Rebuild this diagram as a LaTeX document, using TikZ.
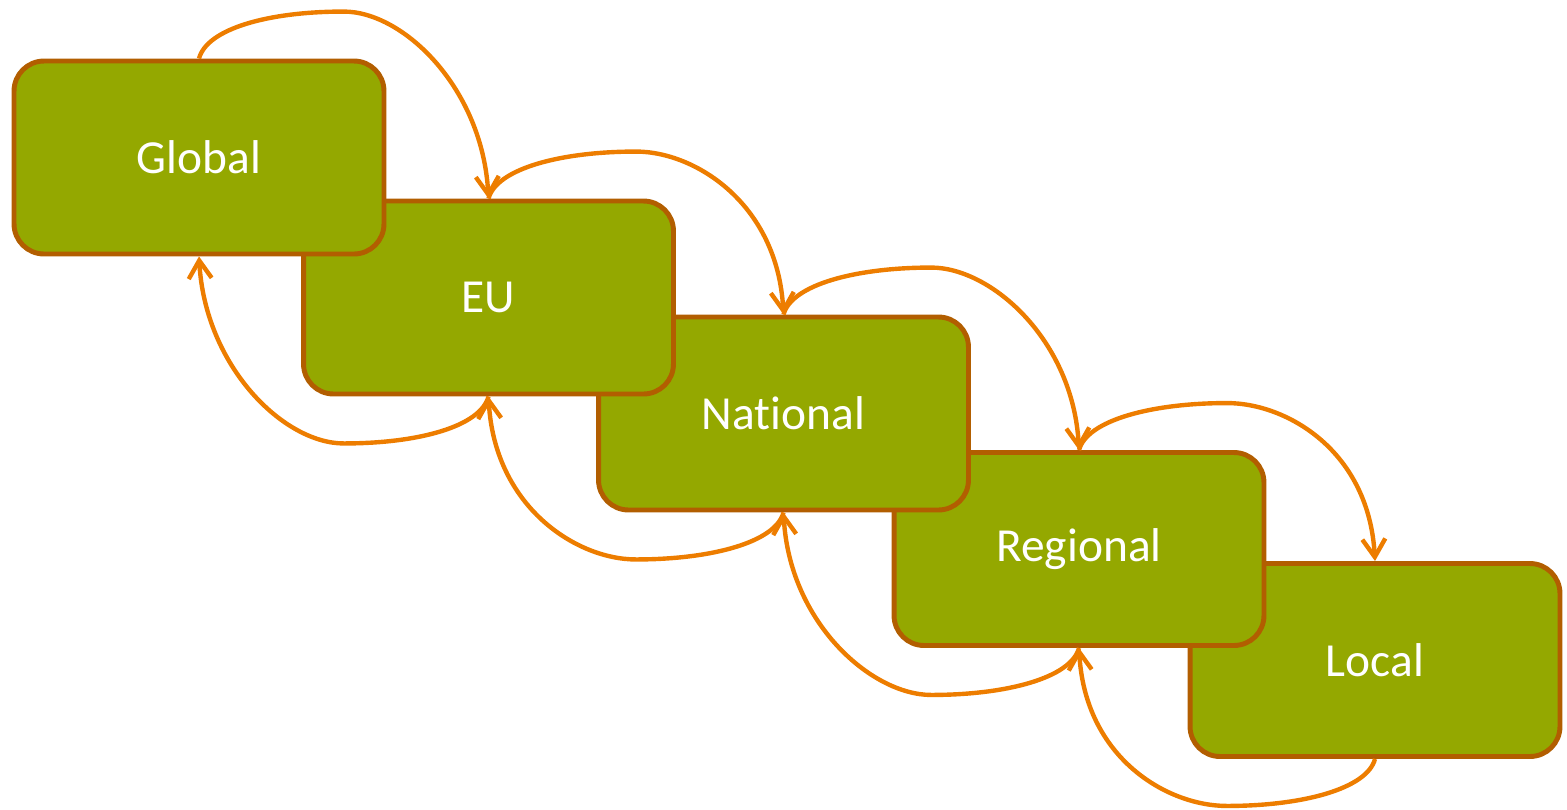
\documentclass[tikz,border=0pt]{standalone}
\usepackage{fontspec}
\setmainfont[Ligatures=NoCommon]{Carlito}
\usetikzlibrary{arrows.meta,calc}
\definecolor{tierfill}{RGB}{148,168,0}
\definecolor{tierline}{RGB}{178,94,0}
\definecolor{flowline}{RGB}{237,125,0}
\tikzset{
  tier/.style={draw=tierline,fill=tierfill,line width=2.8pt,rounded corners=0.6cm,
    minimum width=7.4cm,minimum height=3.86cm,text=white,font=\fontsize{27}{32}\selectfont},
  flow/.style={draw=flowline,line width=2.5pt,-{Straight Barb[length=3.6mm,width=4.6mm]}}
}
\begin{document}
\begin{tikzpicture}[x=0.02cm,y=-0.02cm]
  \useasboundingbox (0,0) rectangle (1567,809);
  % boxes, last one first so each box lies over the next
  \foreach \name/\txt/\x/\y in {local/Local/1375/660, regional/Regional/1079/549,
      national/National/783.5/413.5, eu/EU/488.5/297.5, global/Global/199/157.5}
    \node[tier] (\name) at (\x,\y) {\txt};
  % links down and back up
  \foreach \a/\b [count=\i] in {global/eu, eu/national, national/regional, regional/local} {
    \coordinate (t\i) at ($(\a.north)!0.5!(\b.north |- \a.north)+(0,-47)$);
    \coordinate (s\i) at ($(\b.south)!0.5!(\a.south |- \b.south)+(0,47)$);
    \draw[flow] (\a.north) .. controls +(8,-30) and +(-75,0) .. (t\i)
      .. controls +(60,0) and +(-6,-110) .. (\b.north);
    \draw[flow] (\b.south) .. controls +(-8,30) and +(75,0) .. (s\i)
      .. controls +(-60,0) and +(6,110) .. (\a.south);
  }
\end{tikzpicture}
\end{document}
